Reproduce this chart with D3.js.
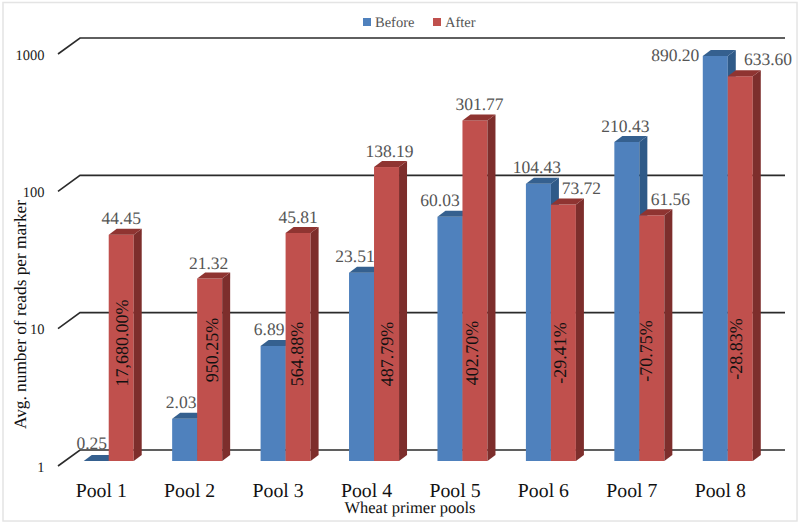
<!DOCTYPE html>
<html><head><meta charset="utf-8">
<script src="https://cdn.jsdelivr.net/npm/d3@7"></script>
<style>html,body{margin:0;padding:0;background:#fff}svg{display:block}text{font-family:"Liberation Serif",serif;text-rendering:geometricPrecision}</style>
</head><body><svg id="c" width="800" height="524"></svg>
<script>
const categories=["Pool 1","Pool 2","Pool 3","Pool 4","Pool 5","Pool 6","Pool 7","Pool 8"];
const seriesNames=["Before","After"];
const before=[0.25,2.03,6.89,23.51,60.03,104.43,210.43,890.20];
const after=[44.45,21.32,45.81,138.19,301.77,73.72,61.56,633.60];
const changes=["17,680.00%","950.25%","564.88%","487.79%","402.70%","-29.41%","-70.75%","-28.83%"];
const yTicks=[1,10,100,1000];

// layout-only nudges of the data labels relative to their bars
const beforeNudge=[[-4.5,-12],[-3.5,-11],[-4,-11],[-6.5,-10.5],[-10,-11],[-1.5,-10.5],[-1.5,-10],[-40,5]];
const afterNudge=[[0,-11],[-1,-10],[0,-10],[3,-10],[4.5,-10],[18,-10.5],[18.5,-10],[27.7,-11]];
const pctCy=[343,350,354,354,353,353,351,349];
const pctDx=[1,2.5,-1,1,-3,-3,-5.5,-4];

const dx=8,dy=6;
const svg=d3.select("#c");
const y=d3.scaleLog().domain([1,1000]).range([461,49]);
const x=d3.scaleBand().domain(categories).range([64.5,772]).paddingInner(0).paddingOuter(0);
const barW=25;
const x0=c=>x(c)+x.bandwidth()/2-barW;
const colors={Before:["#4f81bd","#35608f","#2f5a88"],After:["#c0504d","#8f3431","#7d2e2c"]};

svg.append("rect").attr("x",3).attr("y",2.5).attr("width",794).attr("height",518.5).attr("fill","#fff").attr("stroke","#e4e4e4").attr("stroke-width",1.5);

const gridG=svg.append("g");
yTicks.forEach(t=>{
  const yy=y(t);
  gridG.append("path").attr("d",`M58,${yy+5}L80,${yy-11}L785,${yy-11}`).attr("fill","none").attr("stroke","#2b2b2b").attr("stroke-width",1.6);
  svg.append("text").attr("x",44.5).attr("y",yy+10.5).attr("text-anchor","end").attr("font-size",14.5).attr("fill","#222").text(t);
});

function bar(g,bx,v,c){
  const top=y(Math.max(v,1)),bot=y(1);
  const h=bot-top;
  if(h>0){
    g.append("rect").attr("x",bx).attr("y",top).attr("width",barW).attr("height",h).attr("fill",c[0]);
    g.append("path").attr("d",`M${bx+barW},${top}l${dx},${-dy}v${h}l${-dx},${dy}z`).attr("fill",c[2]);
  }
  g.append("path").attr("d",`M${bx},${top}l${dx},${-dy}h${barW}l${-dx},${dy}z`).attr("fill",c[1]);
}
categories.forEach((c,i)=>{
  const g=svg.append("g");
  bar(g,x0(c),before[i],colors.Before);
  bar(g,x0(c)+barW,after[i],colors.After);
});

categories.forEach((c,i)=>{
  const bx=x0(c);
  const tb=y(Math.max(before[i],1)),ta=y(after[i]);
  svg.append("text").attr("x",bx+barW/2+beforeNudge[i][0]).attr("y",tb+beforeNudge[i][1]).attr("text-anchor","middle").attr("font-size",17.5).attr("fill","#555").text(before[i].toFixed(2));
  svg.append("text").attr("x",bx+barW*1.5+afterNudge[i][0]).attr("y",ta+afterNudge[i][1]).attr("text-anchor","middle").attr("font-size",17.5).attr("fill","#555").text(after[i].toFixed(2));
  svg.append("text").attr("transform",`translate(${bx+barW+12+pctDx[i]},${pctCy[i]}) rotate(-90)`).attr("text-anchor","middle").attr("dy","0.35em").attr("font-size",18).attr("fill","#111").text(changes[i]);
  svg.append("text").attr("x",bx+barW-7.5).attr("y",496.5).attr("text-anchor","middle").attr("font-size",19.8).attr("fill","#111").text(c);
});

svg.append("text").attr("x",410).attr("y",513).attr("text-anchor","middle").attr("font-size",16.5).attr("fill","#111").text("Wheat primer pools");
svg.append("text").attr("transform","translate(26,314.5) rotate(-90)").attr("text-anchor","middle").attr("font-size",17.3).attr("fill","#111").text("Avg. number of reads per marker");

const lg=svg.append("g");
seriesNames.forEach((s,i)=>{
  const lx=363+i*70;
  lg.append("rect").attr("x",lx).attr("y",18).attr("width",8).attr("height",8).attr("fill",colors[s][0]);
  lg.append("text").attr("x",lx+12).attr("y",27).attr("font-size",14.5).attr("fill","#555").text(s);
});
</script></body></html>
